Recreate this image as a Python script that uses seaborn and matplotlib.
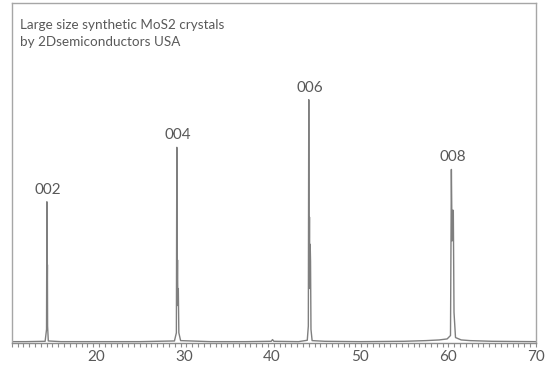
import matplotlib
matplotlib.use("Agg")
import matplotlib.pyplot as plt
import seaborn as sns
import numpy as np

# XRD scan (2-theta in degrees, intensity in a.u.)
two_theta = [10.4, 12.0, 14.2, 14.36, 14.40, 14.43, 14.46, 14.48, 14.56, 16.0,
             20.0, 25.0, 28.9, 29.12, 29.17, 29.21, 29.25, 29.29, 29.34, 29.40, 29.6,
             33.0, 37.0, 39.9, 40.05, 40.2, 43.0, 44.0, 44.12, 44.17, 44.21,
             44.25, 44.29, 44.33, 44.37, 44.42, 44.55, 46.0, 50.0, 55.0, 57.5,
             59.0, 59.9, 60.28, 60.38, 60.46, 60.5, 60.55, 60.6, 60.68, 60.85,
             61.5, 62.5, 65.0, 70.0]
intensity = [4, 4, 5, 40, 415, 120, 230, 50, 6, 4,
             4, 4, 6, 30, 575, 150, 244, 110, 160, 30, 7,
             4, 4, 5, 10, 5, 4, 8, 50, 715, 200,
             370, 160, 290, 240, 40, 7, 5, 4, 5, 7,
             9, 12, 22, 510, 300, 390, 385, 390, 90, 16,
             9, 7, 5, 4]

peak_labels = ["002", "004", "006", "008"]
peak_pos = [14.40, 29.17, 44.17, 60.38]
peak_top = [415, 575, 715, 510]

title_lines = ["Large size synthetic MoS2 crystals", "by 2Dsemiconductors USA"]
xtick_values = [20, 30, 40, 50, 60, 70]

sns.set_style("white")
plt.rcParams["font.family"] = ["Lato", "DejaVu Sans"]
text_color = "#595959"

fig = plt.figure(figsize=(5.51, 3.79), dpi=100)
ax = fig.add_axes([11.7 / 551, 1 - 343 / 379, (536 - 11.7) / 551, (343 - 2.7) / 379])

sns.lineplot(x=two_theta, y=intensity, ax=ax, color="#7f7f7f", linewidth=1.0,
             estimator=None, sort=False)

for lab, px, py in zip(peak_labels, peak_pos, peak_top):
    ax.annotate(lab, (px, py), xytext=(1, 5), textcoords="offset pixels",
                ha="center", va="bottom", fontsize=11, color=text_color)

ax.text(8 / 524, 0.953, "\n".join(title_lines), transform=ax.transAxes,
        ha="left", va="top", fontsize=9.7, color=text_color, linespacing=1.5)

ax.set_xlim(10.4, 70)
ax.set_ylim(0, 1000)
ax.set_yticks([])
ax.set_xticks(xtick_values)
ax.set_xticks(np.arange(10.4, 70.01, 0.662), minor=True)
ax.tick_params(axis="x", which="major", length=0, pad=5, labelsize=11,
               labelcolor=text_color)
ax.tick_params(axis="x", which="minor", length=3, width=0.8, color="#8c8c8c",
               direction="out", bottom=True)
ax.set_xlabel("")
ax.set_ylabel("")

for side in ["left", "right", "top"]:
    ax.spines[side].set_color("#a6a6a6")
    ax.spines[side].set_linewidth(1.0)
ax.spines["bottom"].set_color("#8c8c8c")
ax.spines["bottom"].set_linewidth(1.0)

fig.savefig("out.png", dpi=100)
